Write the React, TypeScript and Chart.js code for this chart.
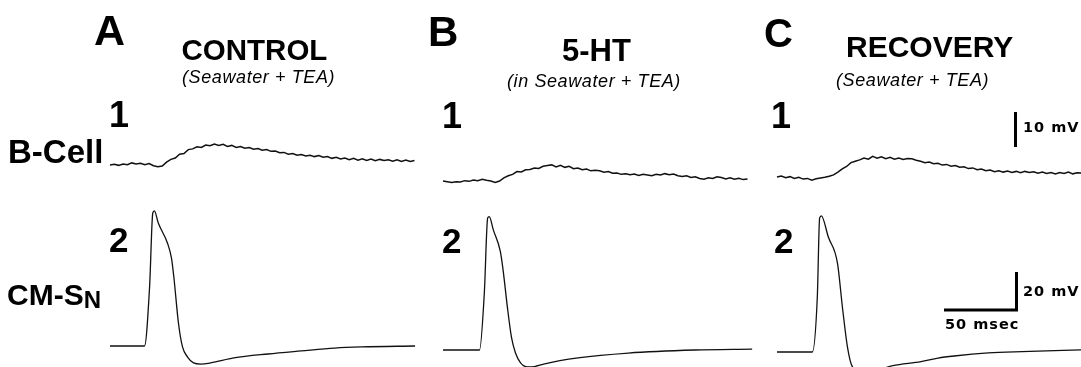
import React, { useEffect, useRef } from "react";
import { Chart, registerables } from "chart.js";

Chart.register(...registerables);

// ---------------- DATA ----------------
// B-Cell traces (mV relative to resting level), sampled every 3 ms
const bCellTimes = [0,3,6,9,12,15,18,21,24,27,30,33,36,39,42,45,48,51,54,57,60,63,66,69,72,75,78,81,84,87,90,93,96,99,102,105,108,111,114,117,120,123,126,129,132,135,138,141,144,147,150,153,156,159,162,165,168,171,174,177,180,183,186,189,192,195,198,201,204,207,210];
const bCellControl = [0.0,0.2,-0.1,0.3,0.1,0.6,0.3,0.5,0.1,0.4,-0.2,-0.5,-0.3,0.8,1.6,2.0,3.1,3.3,4.4,4.6,5.2,5.0,5.7,5.5,6.0,5.6,5.9,5.3,5.6,5.0,5.3,4.8,5.0,4.5,4.7,4.2,4.4,3.9,4.0,3.5,3.6,3.1,3.3,2.8,3.0,2.6,2.8,2.4,2.7,2.2,2.4,1.9,2.2,1.7,2.0,1.5,1.9,1.4,1.8,1.3,1.7,1.2,1.6,1.3,1.5,1.1,1.5,1.0,1.4,1.0,1.3];
const bCell5HT = [0.0,-0.2,-0.4,-0.2,-0.3,0.1,-0.1,0.3,0.1,0.5,0.2,0.0,-0.4,0.0,0.9,1.5,1.9,2.7,2.6,3.2,3.3,3.7,3.6,4.2,4.4,4.6,4.0,4.5,3.9,4.2,3.5,3.7,3.2,3.4,2.9,3.1,2.9,2.5,2.7,2.2,2.3,1.9,2.1,1.8,2.0,1.6,1.9,1.7,1.5,1.9,1.7,2.1,1.8,2.0,1.5,1.3,1.5,1.0,1.2,0.7,0.5,0.9,0.7,1.2,1.0,0.6,0.9,0.5,0.8,0.4,0.6];
const bCellRecovery = [0.0,0.3,-0.2,0.1,-0.4,-0.1,-0.6,-0.4,-0.9,-0.5,-0.3,-0.1,0.2,0.6,1.4,2.3,3.0,4.1,4.5,4.9,5.4,5.1,5.9,5.4,5.8,5.2,5.6,5.1,5.4,5.0,5.3,5.2,4.8,4.5,4.1,4.3,3.8,3.9,3.4,3.6,3.1,3.3,2.8,2.9,2.4,2.6,2.1,2.3,1.8,2.0,1.5,1.8,1.4,1.7,1.3,1.6,1.2,1.6,1.3,1.5,1.1,1.4,1.0,1.3,0.9,1.3,1.0,1.4,0.9,1.2,1.1];

// CM-SN action potentials (mV relative to resting level)
const cmsnControlTimes = [0,23.8,27.3,29.5,30.6,33.3,39.6,42.4,44.1,47.2,50,53.5,57.6,62.5,69.4,85.4,109,131.9,154.9,173.6,210.4];
const cmsnControl = [0,0,31.1,70,71.1,64.7,54.2,46.3,35.8,12.1,-0.5,-5.8,-8.9,-9.5,-8.9,-6.3,-4.2,-2.6,-1.1,-0.5,0];
const cmsn5HTTimes = [0,25.2,28.5,30.8,31.9,34.7,39.6,41.7,44.4,47.2,50,53.5,58.3,63.2,69.4,93.1,127.8,173.6,213.2];
const cmsn5HT = [0,0,30,69.5,70.2,63.2,51.6,40.5,22.6,6.8,-1.6,-6.8,-8.9,-8.7,-7.4,-4.2,-1.6,0,0.5];
const cmsnRecoveryTimes = [0,24.4,27.8,29.4,30.6,35.4,41.7,45.1,48.6,52.1,61.1,79.9,99.3,111.1,122.2,145.8,168.8,211.1];
const cmsnRecovery = [0,0,28.9,70.5,71.6,60.5,46.8,23.7,2.6,-7.9,-11.0,-7.2,-5.1,-3.2,-2.1,-0.5,0.2,1.1];

// labels
const panelLetters = ["A", "B", "C"];
const conditionTitles = ["CONTROL", "5-HT", "RECOVERY"];
const conditionSubtitles = ["(Seawater + TEA)", "(in Seawater + TEA)", "(Seawater + TEA)"];
const rowNumbers = ["1", "2"];
const scaleBarBCellMv = 10;
const scaleBarCmsnMv = 20;
const scaleBarMs = 50;

// ---------------- LAYOUT ----------------
const W = 1081;
const H = 367;
const PX_PER_MS = 1.45;
const PX_PER_MV_B = 3.5;
const PX_PER_MV_S = 1.9;
const panels = [
  { x0: 110, yB: 165, yS: 346 },
  { x0: 443, yB: 181, yS: 350 },
  { x0: 777, yB: 177, yS: 352 },
];
const bar10Px = { x: 1015.5, bottom: 147 };
const barLPx = { x: 1016.5, y: 310 };

const traceSets = [
  { b: bCellControl, st: cmsnControlTimes, s: cmsnControl },
  { b: bCell5HT, st: cmsn5HTTimes, s: cmsn5HT },
  { b: bCellRecovery, st: cmsnRecoveryTimes, s: cmsnRecovery },
];

type Lbl = {
  text: string;
  x: number;
  base: number;
  size: number;
  italic?: boolean;
  family?: string;
  ls?: number;
  sub?: string;
};

const FONT = "'Liberation Sans', Arial, Helvetica, sans-serif";
const FONT2 = "'DejaVu Sans', sans-serif";

const labels: Lbl[] = [
  { text: panelLetters[0], x: 94, base: 45, size: 43 },
  { text: panelLetters[1], x: 428, base: 46.5, size: 42 },
  { text: panelLetters[2], x: 764, base: 46.5, size: 40 },
  { text: conditionTitles[0], x: 181.5, base: 60, size: 29.5 },
  { text: conditionTitles[1], x: 562, base: 61.5, size: 31 },
  { text: conditionTitles[2], x: 846, base: 57.5, size: 30 },
  { text: conditionSubtitles[0], x: 182, base: 83, size: 18, italic: true, ls: 0.6 },
  { text: conditionSubtitles[1], x: 507, base: 87, size: 18, italic: true, ls: 0.6 },
  { text: conditionSubtitles[2], x: 836, base: 86, size: 18, italic: true, ls: 0.6 },
  { text: rowNumbers[0], x: 109, base: 127, size: 36 },
  { text: rowNumbers[0], x: 442, base: 128, size: 36 },
  { text: rowNumbers[0], x: 771, base: 128, size: 36 },
  { text: rowNumbers[1], x: 109, base: 251.7, size: 35 },
  { text: rowNumbers[1], x: 442, base: 253, size: 35 },
  { text: rowNumbers[1], x: 774, base: 253, size: 35 },
  { text: "B-Cell", x: 8, base: 163, size: 33 },
  { text: "CM-S", sub: "N", x: 7, base: 305, size: 30 },
  { text: `${scaleBarBCellMv} mV`, x: 1023, base: 132, size: 14.5, family: FONT2, ls: 1 },
  { text: `${scaleBarCmsnMv} mV`, x: 1023, base: 296, size: 14.5, family: FONT2, ls: 1 },
  { text: `${scaleBarMs} msec`, x: 945, base: 329, size: 14.5, family: FONT2, ls: 1 },
];

function pts(ts: number[], vs: number[]) {
  return ts.map((t, i) => ({ x: t, y: vs[i] }));
}

export default function App() {
  const ref = useRef<HTMLCanvasElement | null>(null);

  useEffect(() => {
    if (!ref.current) return;
    const scales: any = {};
    const datasets: any[] = [];
    panels.forEach((p, i) => {
      scales["x" + i] = { type: "linear", axis: "x", position: "bottom", display: false, min: -p.x0 / PX_PER_MS, max: (W - p.x0) / PX_PER_MS };
      scales["yb" + i] = { type: "linear", axis: "y", position: "left", display: false, min: -(H - p.yB) / PX_PER_MV_B, max: p.yB / PX_PER_MV_B };
      scales["ys" + i] = { type: "linear", axis: "y", position: "left", display: false, min: -(H - p.yS) / PX_PER_MV_S, max: p.yS / PX_PER_MV_S };
      const set = traceSets[i];
      datasets.push({
        data: pts(bCellTimes, set.b),
        xAxisID: "x" + i,
        yAxisID: "yb" + i,
        borderColor: "#111",
        borderWidth: 1.5,
        pointRadius: 0,
        tension: 0,
        fill: false,
      });
      datasets.push({
        data: pts(set.st, set.s),
        xAxisID: "x" + i,
        yAxisID: "ys" + i,
        borderColor: "#111",
        borderWidth: 1.3,
        pointRadius: 0,
        cubicInterpolationMode: "monotone",
        fill: false,
      });
    });
    const pc = panels[2];
    const t10 = (bar10Px.x - pc.x0) / PX_PER_MS;
    const v10 = (pc.yB - bar10Px.bottom) / PX_PER_MV_B;
    datasets.push({
      data: [{ x: t10, y: v10 }, { x: t10, y: v10 + scaleBarBCellMv }],
      xAxisID: "x2",
      yAxisID: "yb2",
      borderColor: "#000",
      borderWidth: 3,
      borderCapStyle: "butt",
      pointRadius: 0,
      fill: false,
    });
    const tL = (barLPx.x - pc.x0) / PX_PER_MS;
    const vL = (pc.yS - barLPx.y) / PX_PER_MV_S;
    datasets.push({
      data: [
        { x: tL - scaleBarMs, y: vL },
        { x: tL, y: vL },
        { x: tL, y: vL + scaleBarCmsnMv },
      ],
      xAxisID: "x2",
      yAxisID: "ys2",
      borderColor: "#000",
      borderWidth: 3,
      borderCapStyle: "butt",
      borderJoinStyle: "miter",
      pointRadius: 0,
      fill: false,
    });

    const chart = new Chart(ref.current, {
      type: "line",
      data: { datasets },
      options: {
        animation: false,
        responsive: false,
        maintainAspectRatio: false,
        devicePixelRatio: 1,
        events: [],
        layout: { padding: 0 },
        plugins: { legend: { display: false }, tooltip: { enabled: false }, title: { display: false } },
        scales,
      } as any,
    });
    return () => chart.destroy();
  }, []);

  return (
    <div style={{ position: "fixed", left: 0, top: 0, width: W, height: H, background: "#fff", overflow: "hidden" }}>
      <canvas ref={ref} width={W} height={H} style={{ position: "absolute", left: 0, top: 0, width: W, height: H }} />
      {labels.map((l, i) => (
        <div
          key={i}
          style={{
            position: "absolute",
            left: l.x,
            top: l.base - 0.846 * l.size,
            fontSize: l.size,
            lineHeight: l.size + "px",
            fontFamily: l.family || FONT,
            fontWeight: l.italic ? 400 : 700,
            fontStyle: l.italic ? "italic" : "normal",
            letterSpacing: l.ls ? l.ls : 0,
            whiteSpace: "nowrap",
            color: "#000",
          }}
        >
          {l.text}
          {l.sub ? (
            <span style={{ fontSize: l.size * 0.8, verticalAlign: -3 }}>{l.sub}</span>
          ) : null}
        </div>
      ))}
    </div>
  );
}
